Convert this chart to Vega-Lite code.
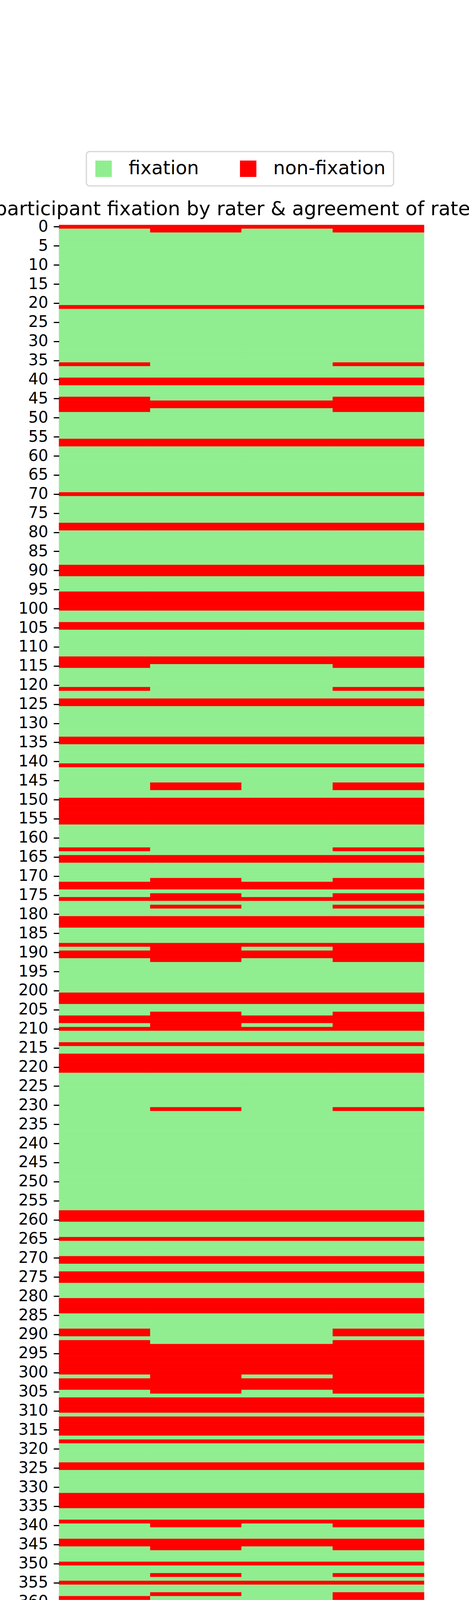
{
  "$schema": "https://vega.github.io/schema/vega-lite/v6.json",
  "description": "participant fixation by rater, 378 participants x 4 columns (1 = fixation, 0 = non-fixation)",
  "autosize": {"type": "none"},
  "padding": {"left": 151, "top": 576, "right": 115, "bottom": 528},
  "width": 934,
  "height": 3696,
  "background": "white",
  "title": {
    "text": "participant fixation by rater & agreement of raters",
    "font": "DejaVu Sans",
    "fontSize": 50,
    "fontWeight": "normal",
    "color": "black",
    "anchor": "middle",
    "baseline": "alphabetic",
    "offset": 0,
    "dy": 214
  },
  "data": {
    "values": [
{"id":0,"col":"A","fix":0},{"id":0,"col":"B","fix":0},{"id":0,"col":"L","fix":0},{"id":0,"col":"C","fix":0},
{"id":1,"col":"A","fix":1},{"id":1,"col":"B","fix":0},{"id":1,"col":"L","fix":1},{"id":1,"col":"C","fix":0},
{"id":2,"col":"A","fix":1},{"id":2,"col":"B","fix":1},{"id":2,"col":"L","fix":1},{"id":2,"col":"C","fix":1},
{"id":3,"col":"A","fix":1},{"id":3,"col":"B","fix":1},{"id":3,"col":"L","fix":1},{"id":3,"col":"C","fix":1},
{"id":4,"col":"A","fix":1},{"id":4,"col":"B","fix":1},{"id":4,"col":"L","fix":1},{"id":4,"col":"C","fix":1},
{"id":5,"col":"A","fix":1},{"id":5,"col":"B","fix":1},{"id":5,"col":"L","fix":1},{"id":5,"col":"C","fix":1},
{"id":6,"col":"A","fix":1},{"id":6,"col":"B","fix":1},{"id":6,"col":"L","fix":1},{"id":6,"col":"C","fix":1},
{"id":7,"col":"A","fix":1},{"id":7,"col":"B","fix":1},{"id":7,"col":"L","fix":1},{"id":7,"col":"C","fix":1},
{"id":8,"col":"A","fix":1},{"id":8,"col":"B","fix":1},{"id":8,"col":"L","fix":1},{"id":8,"col":"C","fix":1},
{"id":9,"col":"A","fix":1},{"id":9,"col":"B","fix":1},{"id":9,"col":"L","fix":1},{"id":9,"col":"C","fix":1},
{"id":10,"col":"A","fix":1},{"id":10,"col":"B","fix":1},{"id":10,"col":"L","fix":1},{"id":10,"col":"C","fix":1},
{"id":11,"col":"A","fix":1},{"id":11,"col":"B","fix":1},{"id":11,"col":"L","fix":1},{"id":11,"col":"C","fix":1},
{"id":12,"col":"A","fix":1},{"id":12,"col":"B","fix":1},{"id":12,"col":"L","fix":1},{"id":12,"col":"C","fix":1},
{"id":13,"col":"A","fix":1},{"id":13,"col":"B","fix":1},{"id":13,"col":"L","fix":1},{"id":13,"col":"C","fix":1},
{"id":14,"col":"A","fix":1},{"id":14,"col":"B","fix":1},{"id":14,"col":"L","fix":1},{"id":14,"col":"C","fix":1},
{"id":15,"col":"A","fix":1},{"id":15,"col":"B","fix":1},{"id":15,"col":"L","fix":1},{"id":15,"col":"C","fix":1},
{"id":16,"col":"A","fix":1},{"id":16,"col":"B","fix":1},{"id":16,"col":"L","fix":1},{"id":16,"col":"C","fix":1},
{"id":17,"col":"A","fix":1},{"id":17,"col":"B","fix":1},{"id":17,"col":"L","fix":1},{"id":17,"col":"C","fix":1},
{"id":18,"col":"A","fix":1},{"id":18,"col":"B","fix":1},{"id":18,"col":"L","fix":1},{"id":18,"col":"C","fix":1},
{"id":19,"col":"A","fix":1},{"id":19,"col":"B","fix":1},{"id":19,"col":"L","fix":1},{"id":19,"col":"C","fix":1},
{"id":20,"col":"A","fix":1},{"id":20,"col":"B","fix":1},{"id":20,"col":"L","fix":1},{"id":20,"col":"C","fix":1},
{"id":21,"col":"A","fix":0},{"id":21,"col":"B","fix":0},{"id":21,"col":"L","fix":0},{"id":21,"col":"C","fix":0},
{"id":22,"col":"A","fix":1},{"id":22,"col":"B","fix":1},{"id":22,"col":"L","fix":1},{"id":22,"col":"C","fix":1},
{"id":23,"col":"A","fix":1},{"id":23,"col":"B","fix":1},{"id":23,"col":"L","fix":1},{"id":23,"col":"C","fix":1},
{"id":24,"col":"A","fix":1},{"id":24,"col":"B","fix":1},{"id":24,"col":"L","fix":1},{"id":24,"col":"C","fix":1},
{"id":25,"col":"A","fix":1},{"id":25,"col":"B","fix":1},{"id":25,"col":"L","fix":1},{"id":25,"col":"C","fix":1},
{"id":26,"col":"A","fix":1},{"id":26,"col":"B","fix":1},{"id":26,"col":"L","fix":1},{"id":26,"col":"C","fix":1},
{"id":27,"col":"A","fix":1},{"id":27,"col":"B","fix":1},{"id":27,"col":"L","fix":1},{"id":27,"col":"C","fix":1},
{"id":28,"col":"A","fix":1},{"id":28,"col":"B","fix":1},{"id":28,"col":"L","fix":1},{"id":28,"col":"C","fix":1},
{"id":29,"col":"A","fix":1},{"id":29,"col":"B","fix":1},{"id":29,"col":"L","fix":1},{"id":29,"col":"C","fix":1},
{"id":30,"col":"A","fix":1},{"id":30,"col":"B","fix":1},{"id":30,"col":"L","fix":1},{"id":30,"col":"C","fix":1},
{"id":31,"col":"A","fix":1},{"id":31,"col":"B","fix":1},{"id":31,"col":"L","fix":1},{"id":31,"col":"C","fix":1},
{"id":32,"col":"A","fix":1},{"id":32,"col":"B","fix":1},{"id":32,"col":"L","fix":1},{"id":32,"col":"C","fix":1},
{"id":33,"col":"A","fix":1},{"id":33,"col":"B","fix":1},{"id":33,"col":"L","fix":1},{"id":33,"col":"C","fix":1},
{"id":34,"col":"A","fix":1},{"id":34,"col":"B","fix":1},{"id":34,"col":"L","fix":1},{"id":34,"col":"C","fix":1},
{"id":35,"col":"A","fix":1},{"id":35,"col":"B","fix":1},{"id":35,"col":"L","fix":1},{"id":35,"col":"C","fix":1},
{"id":36,"col":"A","fix":0},{"id":36,"col":"B","fix":1},{"id":36,"col":"L","fix":1},{"id":36,"col":"C","fix":0},
{"id":37,"col":"A","fix":1},{"id":37,"col":"B","fix":1},{"id":37,"col":"L","fix":1},{"id":37,"col":"C","fix":1},
{"id":38,"col":"A","fix":1},{"id":38,"col":"B","fix":1},{"id":38,"col":"L","fix":1},{"id":38,"col":"C","fix":1},
{"id":39,"col":"A","fix":1},{"id":39,"col":"B","fix":1},{"id":39,"col":"L","fix":1},{"id":39,"col":"C","fix":1},
{"id":40,"col":"A","fix":0},{"id":40,"col":"B","fix":0},{"id":40,"col":"L","fix":0},{"id":40,"col":"C","fix":0},
{"id":41,"col":"A","fix":0},{"id":41,"col":"B","fix":0},{"id":41,"col":"L","fix":0},{"id":41,"col":"C","fix":0},
{"id":42,"col":"A","fix":1},{"id":42,"col":"B","fix":1},{"id":42,"col":"L","fix":1},{"id":42,"col":"C","fix":1},
{"id":43,"col":"A","fix":1},{"id":43,"col":"B","fix":1},{"id":43,"col":"L","fix":1},{"id":43,"col":"C","fix":1},
{"id":44,"col":"A","fix":1},{"id":44,"col":"B","fix":1},{"id":44,"col":"L","fix":1},{"id":44,"col":"C","fix":1},
{"id":45,"col":"A","fix":0},{"id":45,"col":"B","fix":1},{"id":45,"col":"L","fix":1},{"id":45,"col":"C","fix":0},
{"id":46,"col":"A","fix":0},{"id":46,"col":"B","fix":0},{"id":46,"col":"L","fix":0},{"id":46,"col":"C","fix":0},
{"id":47,"col":"A","fix":0},{"id":47,"col":"B","fix":0},{"id":47,"col":"L","fix":0},{"id":47,"col":"C","fix":0},
{"id":48,"col":"A","fix":0},{"id":48,"col":"B","fix":1},{"id":48,"col":"L","fix":1},{"id":48,"col":"C","fix":0},
{"id":49,"col":"A","fix":1},{"id":49,"col":"B","fix":1},{"id":49,"col":"L","fix":1},{"id":49,"col":"C","fix":1},
{"id":50,"col":"A","fix":1},{"id":50,"col":"B","fix":1},{"id":50,"col":"L","fix":1},{"id":50,"col":"C","fix":1},
{"id":51,"col":"A","fix":1},{"id":51,"col":"B","fix":1},{"id":51,"col":"L","fix":1},{"id":51,"col":"C","fix":1},
{"id":52,"col":"A","fix":1},{"id":52,"col":"B","fix":1},{"id":52,"col":"L","fix":1},{"id":52,"col":"C","fix":1},
{"id":53,"col":"A","fix":1},{"id":53,"col":"B","fix":1},{"id":53,"col":"L","fix":1},{"id":53,"col":"C","fix":1},
{"id":54,"col":"A","fix":1},{"id":54,"col":"B","fix":1},{"id":54,"col":"L","fix":1},{"id":54,"col":"C","fix":1},
{"id":55,"col":"A","fix":1},{"id":55,"col":"B","fix":1},{"id":55,"col":"L","fix":1},{"id":55,"col":"C","fix":1},
{"id":56,"col":"A","fix":0},{"id":56,"col":"B","fix":0},{"id":56,"col":"L","fix":0},{"id":56,"col":"C","fix":0},
{"id":57,"col":"A","fix":0},{"id":57,"col":"B","fix":0},{"id":57,"col":"L","fix":0},{"id":57,"col":"C","fix":0},
{"id":58,"col":"A","fix":1},{"id":58,"col":"B","fix":1},{"id":58,"col":"L","fix":1},{"id":58,"col":"C","fix":1},
{"id":59,"col":"A","fix":1},{"id":59,"col":"B","fix":1},{"id":59,"col":"L","fix":1},{"id":59,"col":"C","fix":1},
{"id":60,"col":"A","fix":1},{"id":60,"col":"B","fix":1},{"id":60,"col":"L","fix":1},{"id":60,"col":"C","fix":1},
{"id":61,"col":"A","fix":1},{"id":61,"col":"B","fix":1},{"id":61,"col":"L","fix":1},{"id":61,"col":"C","fix":1},
{"id":62,"col":"A","fix":1},{"id":62,"col":"B","fix":1},{"id":62,"col":"L","fix":1},{"id":62,"col":"C","fix":1},
{"id":63,"col":"A","fix":1},{"id":63,"col":"B","fix":1},{"id":63,"col":"L","fix":1},{"id":63,"col":"C","fix":1},
{"id":64,"col":"A","fix":1},{"id":64,"col":"B","fix":1},{"id":64,"col":"L","fix":1},{"id":64,"col":"C","fix":1},
{"id":65,"col":"A","fix":1},{"id":65,"col":"B","fix":1},{"id":65,"col":"L","fix":1},{"id":65,"col":"C","fix":1},
{"id":66,"col":"A","fix":1},{"id":66,"col":"B","fix":1},{"id":66,"col":"L","fix":1},{"id":66,"col":"C","fix":1},
{"id":67,"col":"A","fix":1},{"id":67,"col":"B","fix":1},{"id":67,"col":"L","fix":1},{"id":67,"col":"C","fix":1},
{"id":68,"col":"A","fix":1},{"id":68,"col":"B","fix":1},{"id":68,"col":"L","fix":1},{"id":68,"col":"C","fix":1},
{"id":69,"col":"A","fix":1},{"id":69,"col":"B","fix":1},{"id":69,"col":"L","fix":1},{"id":69,"col":"C","fix":1},
{"id":70,"col":"A","fix":0},{"id":70,"col":"B","fix":0},{"id":70,"col":"L","fix":0},{"id":70,"col":"C","fix":0},
{"id":71,"col":"A","fix":1},{"id":71,"col":"B","fix":1},{"id":71,"col":"L","fix":1},{"id":71,"col":"C","fix":1},
{"id":72,"col":"A","fix":1},{"id":72,"col":"B","fix":1},{"id":72,"col":"L","fix":1},{"id":72,"col":"C","fix":1},
{"id":73,"col":"A","fix":1},{"id":73,"col":"B","fix":1},{"id":73,"col":"L","fix":1},{"id":73,"col":"C","fix":1},
{"id":74,"col":"A","fix":1},{"id":74,"col":"B","fix":1},{"id":74,"col":"L","fix":1},{"id":74,"col":"C","fix":1},
{"id":75,"col":"A","fix":1},{"id":75,"col":"B","fix":1},{"id":75,"col":"L","fix":1},{"id":75,"col":"C","fix":1},
{"id":76,"col":"A","fix":1},{"id":76,"col":"B","fix":1},{"id":76,"col":"L","fix":1},{"id":76,"col":"C","fix":1},
{"id":77,"col":"A","fix":1},{"id":77,"col":"B","fix":1},{"id":77,"col":"L","fix":1},{"id":77,"col":"C","fix":1},
{"id":78,"col":"A","fix":0},{"id":78,"col":"B","fix":0},{"id":78,"col":"L","fix":0},{"id":78,"col":"C","fix":0},
{"id":79,"col":"A","fix":0},{"id":79,"col":"B","fix":0},{"id":79,"col":"L","fix":0},{"id":79,"col":"C","fix":0},
{"id":80,"col":"A","fix":1},{"id":80,"col":"B","fix":1},{"id":80,"col":"L","fix":1},{"id":80,"col":"C","fix":1},
{"id":81,"col":"A","fix":1},{"id":81,"col":"B","fix":1},{"id":81,"col":"L","fix":1},{"id":81,"col":"C","fix":1},
{"id":82,"col":"A","fix":1},{"id":82,"col":"B","fix":1},{"id":82,"col":"L","fix":1},{"id":82,"col":"C","fix":1},
{"id":83,"col":"A","fix":1},{"id":83,"col":"B","fix":1},{"id":83,"col":"L","fix":1},{"id":83,"col":"C","fix":1},
{"id":84,"col":"A","fix":1},{"id":84,"col":"B","fix":1},{"id":84,"col":"L","fix":1},{"id":84,"col":"C","fix":1},
{"id":85,"col":"A","fix":1},{"id":85,"col":"B","fix":1},{"id":85,"col":"L","fix":1},{"id":85,"col":"C","fix":1},
{"id":86,"col":"A","fix":1},{"id":86,"col":"B","fix":1},{"id":86,"col":"L","fix":1},{"id":86,"col":"C","fix":1},
{"id":87,"col":"A","fix":1},{"id":87,"col":"B","fix":1},{"id":87,"col":"L","fix":1},{"id":87,"col":"C","fix":1},
{"id":88,"col":"A","fix":1},{"id":88,"col":"B","fix":1},{"id":88,"col":"L","fix":1},{"id":88,"col":"C","fix":1},
{"id":89,"col":"A","fix":0},{"id":89,"col":"B","fix":0},{"id":89,"col":"L","fix":0},{"id":89,"col":"C","fix":0},
{"id":90,"col":"A","fix":0},{"id":90,"col":"B","fix":0},{"id":90,"col":"L","fix":0},{"id":90,"col":"C","fix":0},
{"id":91,"col":"A","fix":0},{"id":91,"col":"B","fix":0},{"id":91,"col":"L","fix":0},{"id":91,"col":"C","fix":0},
{"id":92,"col":"A","fix":1},{"id":92,"col":"B","fix":1},{"id":92,"col":"L","fix":1},{"id":92,"col":"C","fix":1},
{"id":93,"col":"A","fix":1},{"id":93,"col":"B","fix":1},{"id":93,"col":"L","fix":1},{"id":93,"col":"C","fix":1},
{"id":94,"col":"A","fix":1},{"id":94,"col":"B","fix":1},{"id":94,"col":"L","fix":1},{"id":94,"col":"C","fix":1},
{"id":95,"col":"A","fix":1},{"id":95,"col":"B","fix":1},{"id":95,"col":"L","fix":1},{"id":95,"col":"C","fix":1},
{"id":96,"col":"A","fix":0},{"id":96,"col":"B","fix":0},{"id":96,"col":"L","fix":0},{"id":96,"col":"C","fix":0},
{"id":97,"col":"A","fix":0},{"id":97,"col":"B","fix":0},{"id":97,"col":"L","fix":0},{"id":97,"col":"C","fix":0},
{"id":98,"col":"A","fix":0},{"id":98,"col":"B","fix":0},{"id":98,"col":"L","fix":0},{"id":98,"col":"C","fix":0},
{"id":99,"col":"A","fix":0},{"id":99,"col":"B","fix":0},{"id":99,"col":"L","fix":0},{"id":99,"col":"C","fix":0},
{"id":100,"col":"A","fix":0},{"id":100,"col":"B","fix":0},{"id":100,"col":"L","fix":0},{"id":100,"col":"C","fix":0},
{"id":101,"col":"A","fix":1},{"id":101,"col":"B","fix":1},{"id":101,"col":"L","fix":1},{"id":101,"col":"C","fix":1},
{"id":102,"col":"A","fix":1},{"id":102,"col":"B","fix":1},{"id":102,"col":"L","fix":1},{"id":102,"col":"C","fix":1},
{"id":103,"col":"A","fix":1},{"id":103,"col":"B","fix":1},{"id":103,"col":"L","fix":1},{"id":103,"col":"C","fix":1},
{"id":104,"col":"A","fix":0},{"id":104,"col":"B","fix":0},{"id":104,"col":"L","fix":0},{"id":104,"col":"C","fix":0},
{"id":105,"col":"A","fix":0},{"id":105,"col":"B","fix":0},{"id":105,"col":"L","fix":0},{"id":105,"col":"C","fix":0},
{"id":106,"col":"A","fix":1},{"id":106,"col":"B","fix":1},{"id":106,"col":"L","fix":1},{"id":106,"col":"C","fix":1},
{"id":107,"col":"A","fix":1},{"id":107,"col":"B","fix":1},{"id":107,"col":"L","fix":1},{"id":107,"col":"C","fix":1},
{"id":108,"col":"A","fix":1},{"id":108,"col":"B","fix":1},{"id":108,"col":"L","fix":1},{"id":108,"col":"C","fix":1},
{"id":109,"col":"A","fix":1},{"id":109,"col":"B","fix":1},{"id":109,"col":"L","fix":1},{"id":109,"col":"C","fix":1},
{"id":110,"col":"A","fix":1},{"id":110,"col":"B","fix":1},{"id":110,"col":"L","fix":1},{"id":110,"col":"C","fix":1},
{"id":111,"col":"A","fix":1},{"id":111,"col":"B","fix":1},{"id":111,"col":"L","fix":1},{"id":111,"col":"C","fix":1},
{"id":112,"col":"A","fix":1},{"id":112,"col":"B","fix":1},{"id":112,"col":"L","fix":1},{"id":112,"col":"C","fix":1},
{"id":113,"col":"A","fix":0},{"id":113,"col":"B","fix":0},{"id":113,"col":"L","fix":0},{"id":113,"col":"C","fix":0},
{"id":114,"col":"A","fix":0},{"id":114,"col":"B","fix":0},{"id":114,"col":"L","fix":0},{"id":114,"col":"C","fix":0},
{"id":115,"col":"A","fix":0},{"id":115,"col":"B","fix":1},{"id":115,"col":"L","fix":1},{"id":115,"col":"C","fix":0},
{"id":116,"col":"A","fix":1},{"id":116,"col":"B","fix":1},{"id":116,"col":"L","fix":1},{"id":116,"col":"C","fix":1},
{"id":117,"col":"A","fix":1},{"id":117,"col":"B","fix":1},{"id":117,"col":"L","fix":1},{"id":117,"col":"C","fix":1},
{"id":118,"col":"A","fix":1},{"id":118,"col":"B","fix":1},{"id":118,"col":"L","fix":1},{"id":118,"col":"C","fix":1},
{"id":119,"col":"A","fix":1},{"id":119,"col":"B","fix":1},{"id":119,"col":"L","fix":1},{"id":119,"col":"C","fix":1},
{"id":120,"col":"A","fix":1},{"id":120,"col":"B","fix":1},{"id":120,"col":"L","fix":1},{"id":120,"col":"C","fix":1},
{"id":121,"col":"A","fix":0},{"id":121,"col":"B","fix":1},{"id":121,"col":"L","fix":1},{"id":121,"col":"C","fix":0},
{"id":122,"col":"A","fix":1},{"id":122,"col":"B","fix":1},{"id":122,"col":"L","fix":1},{"id":122,"col":"C","fix":1},
{"id":123,"col":"A","fix":1},{"id":123,"col":"B","fix":1},{"id":123,"col":"L","fix":1},{"id":123,"col":"C","fix":1},
{"id":124,"col":"A","fix":0},{"id":124,"col":"B","fix":0},{"id":124,"col":"L","fix":0},{"id":124,"col":"C","fix":0},
{"id":125,"col":"A","fix":0},{"id":125,"col":"B","fix":0},{"id":125,"col":"L","fix":0},{"id":125,"col":"C","fix":0},
{"id":126,"col":"A","fix":1},{"id":126,"col":"B","fix":1},{"id":126,"col":"L","fix":1},{"id":126,"col":"C","fix":1},
{"id":127,"col":"A","fix":1},{"id":127,"col":"B","fix":1},{"id":127,"col":"L","fix":1},{"id":127,"col":"C","fix":1},
{"id":128,"col":"A","fix":1},{"id":128,"col":"B","fix":1},{"id":128,"col":"L","fix":1},{"id":128,"col":"C","fix":1},
{"id":129,"col":"A","fix":1},{"id":129,"col":"B","fix":1},{"id":129,"col":"L","fix":1},{"id":129,"col":"C","fix":1},
{"id":130,"col":"A","fix":1},{"id":130,"col":"B","fix":1},{"id":130,"col":"L","fix":1},{"id":130,"col":"C","fix":1},
{"id":131,"col":"A","fix":1},{"id":131,"col":"B","fix":1},{"id":131,"col":"L","fix":1},{"id":131,"col":"C","fix":1},
{"id":132,"col":"A","fix":1},{"id":132,"col":"B","fix":1},{"id":132,"col":"L","fix":1},{"id":132,"col":"C","fix":1},
{"id":133,"col":"A","fix":1},{"id":133,"col":"B","fix":1},{"id":133,"col":"L","fix":1},{"id":133,"col":"C","fix":1},
{"id":134,"col":"A","fix":0},{"id":134,"col":"B","fix":0},{"id":134,"col":"L","fix":0},{"id":134,"col":"C","fix":0},
{"id":135,"col":"A","fix":0},{"id":135,"col":"B","fix":0},{"id":135,"col":"L","fix":0},{"id":135,"col":"C","fix":0},
{"id":136,"col":"A","fix":1},{"id":136,"col":"B","fix":1},{"id":136,"col":"L","fix":1},{"id":136,"col":"C","fix":1},
{"id":137,"col":"A","fix":1},{"id":137,"col":"B","fix":1},{"id":137,"col":"L","fix":1},{"id":137,"col":"C","fix":1},
{"id":138,"col":"A","fix":1},{"id":138,"col":"B","fix":1},{"id":138,"col":"L","fix":1},{"id":138,"col":"C","fix":1},
{"id":139,"col":"A","fix":1},{"id":139,"col":"B","fix":1},{"id":139,"col":"L","fix":1},{"id":139,"col":"C","fix":1},
{"id":140,"col":"A","fix":1},{"id":140,"col":"B","fix":1},{"id":140,"col":"L","fix":1},{"id":140,"col":"C","fix":1},
{"id":141,"col":"A","fix":0},{"id":141,"col":"B","fix":0},{"id":141,"col":"L","fix":0},{"id":141,"col":"C","fix":0},
{"id":142,"col":"A","fix":1},{"id":142,"col":"B","fix":1},{"id":142,"col":"L","fix":1},{"id":142,"col":"C","fix":1},
{"id":143,"col":"A","fix":1},{"id":143,"col":"B","fix":1},{"id":143,"col":"L","fix":1},{"id":143,"col":"C","fix":1},
{"id":144,"col":"A","fix":1},{"id":144,"col":"B","fix":1},{"id":144,"col":"L","fix":1},{"id":144,"col":"C","fix":1},
{"id":145,"col":"A","fix":1},{"id":145,"col":"B","fix":1},{"id":145,"col":"L","fix":1},{"id":145,"col":"C","fix":1},
{"id":146,"col":"A","fix":1},{"id":146,"col":"B","fix":0},{"id":146,"col":"L","fix":1},{"id":146,"col":"C","fix":0},
{"id":147,"col":"A","fix":1},{"id":147,"col":"B","fix":0},{"id":147,"col":"L","fix":1},{"id":147,"col":"C","fix":0},
{"id":148,"col":"A","fix":1},{"id":148,"col":"B","fix":1},{"id":148,"col":"L","fix":1},{"id":148,"col":"C","fix":1},
{"id":149,"col":"A","fix":1},{"id":149,"col":"B","fix":1},{"id":149,"col":"L","fix":1},{"id":149,"col":"C","fix":1},
{"id":150,"col":"A","fix":0},{"id":150,"col":"B","fix":0},{"id":150,"col":"L","fix":0},{"id":150,"col":"C","fix":0},
{"id":151,"col":"A","fix":0},{"id":151,"col":"B","fix":0},{"id":151,"col":"L","fix":0},{"id":151,"col":"C","fix":0},
{"id":152,"col":"A","fix":0},{"id":152,"col":"B","fix":0},{"id":152,"col":"L","fix":0},{"id":152,"col":"C","fix":0},
{"id":153,"col":"A","fix":0},{"id":153,"col":"B","fix":0},{"id":153,"col":"L","fix":0},{"id":153,"col":"C","fix":0},
{"id":154,"col":"A","fix":0},{"id":154,"col":"B","fix":0},{"id":154,"col":"L","fix":0},{"id":154,"col":"C","fix":0},
{"id":155,"col":"A","fix":0},{"id":155,"col":"B","fix":0},{"id":155,"col":"L","fix":0},{"id":155,"col":"C","fix":0},
{"id":156,"col":"A","fix":0},{"id":156,"col":"B","fix":0},{"id":156,"col":"L","fix":0},{"id":156,"col":"C","fix":0},
{"id":157,"col":"A","fix":1},{"id":157,"col":"B","fix":1},{"id":157,"col":"L","fix":1},{"id":157,"col":"C","fix":1},
{"id":158,"col":"A","fix":1},{"id":158,"col":"B","fix":1},{"id":158,"col":"L","fix":1},{"id":158,"col":"C","fix":1},
{"id":159,"col":"A","fix":1},{"id":159,"col":"B","fix":1},{"id":159,"col":"L","fix":1},{"id":159,"col":"C","fix":1},
{"id":160,"col":"A","fix":1},{"id":160,"col":"B","fix":1},{"id":160,"col":"L","fix":1},{"id":160,"col":"C","fix":1},
{"id":161,"col":"A","fix":1},{"id":161,"col":"B","fix":1},{"id":161,"col":"L","fix":1},{"id":161,"col":"C","fix":1},
{"id":162,"col":"A","fix":1},{"id":162,"col":"B","fix":1},{"id":162,"col":"L","fix":1},{"id":162,"col":"C","fix":1},
{"id":163,"col":"A","fix":0},{"id":163,"col":"B","fix":1},{"id":163,"col":"L","fix":1},{"id":163,"col":"C","fix":0},
{"id":164,"col":"A","fix":1},{"id":164,"col":"B","fix":1},{"id":164,"col":"L","fix":1},{"id":164,"col":"C","fix":1},
{"id":165,"col":"A","fix":0},{"id":165,"col":"B","fix":0},{"id":165,"col":"L","fix":0},{"id":165,"col":"C","fix":0},
{"id":166,"col":"A","fix":0},{"id":166,"col":"B","fix":0},{"id":166,"col":"L","fix":0},{"id":166,"col":"C","fix":0},
{"id":167,"col":"A","fix":1},{"id":167,"col":"B","fix":1},{"id":167,"col":"L","fix":1},{"id":167,"col":"C","fix":1},
{"id":168,"col":"A","fix":1},{"id":168,"col":"B","fix":1},{"id":168,"col":"L","fix":1},{"id":168,"col":"C","fix":1},
{"id":169,"col":"A","fix":1},{"id":169,"col":"B","fix":1},{"id":169,"col":"L","fix":1},{"id":169,"col":"C","fix":1},
{"id":170,"col":"A","fix":1},{"id":170,"col":"B","fix":1},{"id":170,"col":"L","fix":1},{"id":170,"col":"C","fix":1},
{"id":171,"col":"A","fix":1},{"id":171,"col":"B","fix":0},{"id":171,"col":"L","fix":1},{"id":171,"col":"C","fix":0},
{"id":172,"col":"A","fix":0},{"id":172,"col":"B","fix":0},{"id":172,"col":"L","fix":0},{"id":172,"col":"C","fix":0},
{"id":173,"col":"A","fix":0},{"id":173,"col":"B","fix":0},{"id":173,"col":"L","fix":0},{"id":173,"col":"C","fix":0},
{"id":174,"col":"A","fix":1},{"id":174,"col":"B","fix":1},{"id":174,"col":"L","fix":1},{"id":174,"col":"C","fix":1},
{"id":175,"col":"A","fix":1},{"id":175,"col":"B","fix":0},{"id":175,"col":"L","fix":1},{"id":175,"col":"C","fix":0},
{"id":176,"col":"A","fix":0},{"id":176,"col":"B","fix":0},{"id":176,"col":"L","fix":0},{"id":176,"col":"C","fix":0},
{"id":177,"col":"A","fix":1},{"id":177,"col":"B","fix":1},{"id":177,"col":"L","fix":1},{"id":177,"col":"C","fix":1},
{"id":178,"col":"A","fix":1},{"id":178,"col":"B","fix":0},{"id":178,"col":"L","fix":1},{"id":178,"col":"C","fix":0},
{"id":179,"col":"A","fix":1},{"id":179,"col":"B","fix":1},{"id":179,"col":"L","fix":1},{"id":179,"col":"C","fix":1},
{"id":180,"col":"A","fix":1},{"id":180,"col":"B","fix":1},{"id":180,"col":"L","fix":1},{"id":180,"col":"C","fix":1},
{"id":181,"col":"A","fix":0},{"id":181,"col":"B","fix":0},{"id":181,"col":"L","fix":0},{"id":181,"col":"C","fix":0},
{"id":182,"col":"A","fix":0},{"id":182,"col":"B","fix":0},{"id":182,"col":"L","fix":0},{"id":182,"col":"C","fix":0},
{"id":183,"col":"A","fix":0},{"id":183,"col":"B","fix":0},{"id":183,"col":"L","fix":0},{"id":183,"col":"C","fix":0},
{"id":184,"col":"A","fix":1},{"id":184,"col":"B","fix":1},{"id":184,"col":"L","fix":1},{"id":184,"col":"C","fix":1},
{"id":185,"col":"A","fix":1},{"id":185,"col":"B","fix":1},{"id":185,"col":"L","fix":1},{"id":185,"col":"C","fix":1},
{"id":186,"col":"A","fix":1},{"id":186,"col":"B","fix":1},{"id":186,"col":"L","fix":1},{"id":186,"col":"C","fix":1},
{"id":187,"col":"A","fix":1},{"id":187,"col":"B","fix":1},{"id":187,"col":"L","fix":1},{"id":187,"col":"C","fix":1},
{"id":188,"col":"A","fix":0},{"id":188,"col":"B","fix":0},{"id":188,"col":"L","fix":0},{"id":188,"col":"C","fix":0},
{"id":189,"col":"A","fix":1},{"id":189,"col":"B","fix":0},{"id":189,"col":"L","fix":1},{"id":189,"col":"C","fix":0},
{"id":190,"col":"A","fix":0},{"id":190,"col":"B","fix":0},{"id":190,"col":"L","fix":0},{"id":190,"col":"C","fix":0},
{"id":191,"col":"A","fix":0},{"id":191,"col":"B","fix":0},{"id":191,"col":"L","fix":0},{"id":191,"col":"C","fix":0},
{"id":192,"col":"A","fix":1},{"id":192,"col":"B","fix":0},{"id":192,"col":"L","fix":1},{"id":192,"col":"C","fix":0},
{"id":193,"col":"A","fix":1},{"id":193,"col":"B","fix":1},{"id":193,"col":"L","fix":1},{"id":193,"col":"C","fix":1},
{"id":194,"col":"A","fix":1},{"id":194,"col":"B","fix":1},{"id":194,"col":"L","fix":1},{"id":194,"col":"C","fix":1},
{"id":195,"col":"A","fix":1},{"id":195,"col":"B","fix":1},{"id":195,"col":"L","fix":1},{"id":195,"col":"C","fix":1},
{"id":196,"col":"A","fix":1},{"id":196,"col":"B","fix":1},{"id":196,"col":"L","fix":1},{"id":196,"col":"C","fix":1},
{"id":197,"col":"A","fix":1},{"id":197,"col":"B","fix":1},{"id":197,"col":"L","fix":1},{"id":197,"col":"C","fix":1},
{"id":198,"col":"A","fix":1},{"id":198,"col":"B","fix":1},{"id":198,"col":"L","fix":1},{"id":198,"col":"C","fix":1},
{"id":199,"col":"A","fix":1},{"id":199,"col":"B","fix":1},{"id":199,"col":"L","fix":1},{"id":199,"col":"C","fix":1},
{"id":200,"col":"A","fix":1},{"id":200,"col":"B","fix":1},{"id":200,"col":"L","fix":1},{"id":200,"col":"C","fix":1},
{"id":201,"col":"A","fix":0},{"id":201,"col":"B","fix":0},{"id":201,"col":"L","fix":0},{"id":201,"col":"C","fix":0},
{"id":202,"col":"A","fix":0},{"id":202,"col":"B","fix":0},{"id":202,"col":"L","fix":0},{"id":202,"col":"C","fix":0},
{"id":203,"col":"A","fix":0},{"id":203,"col":"B","fix":0},{"id":203,"col":"L","fix":0},{"id":203,"col":"C","fix":0},
{"id":204,"col":"A","fix":1},{"id":204,"col":"B","fix":1},{"id":204,"col":"L","fix":1},{"id":204,"col":"C","fix":1},
{"id":205,"col":"A","fix":1},{"id":205,"col":"B","fix":1},{"id":205,"col":"L","fix":1},{"id":205,"col":"C","fix":1},
{"id":206,"col":"A","fix":1},{"id":206,"col":"B","fix":0},{"id":206,"col":"L","fix":1},{"id":206,"col":"C","fix":0},
{"id":207,"col":"A","fix":0},{"id":207,"col":"B","fix":0},{"id":207,"col":"L","fix":0},{"id":207,"col":"C","fix":0},
{"id":208,"col":"A","fix":0},{"id":208,"col":"B","fix":0},{"id":208,"col":"L","fix":0},{"id":208,"col":"C","fix":0},
{"id":209,"col":"A","fix":1},{"id":209,"col":"B","fix":0},{"id":209,"col":"L","fix":1},{"id":209,"col":"C","fix":0},
{"id":210,"col":"A","fix":0},{"id":210,"col":"B","fix":0},{"id":210,"col":"L","fix":0},{"id":210,"col":"C","fix":0},
{"id":211,"col":"A","fix":1},{"id":211,"col":"B","fix":1},{"id":211,"col":"L","fix":1},{"id":211,"col":"C","fix":1},
{"id":212,"col":"A","fix":1},{"id":212,"col":"B","fix":1},{"id":212,"col":"L","fix":1},{"id":212,"col":"C","fix":1},
{"id":213,"col":"A","fix":1},{"id":213,"col":"B","fix":1},{"id":213,"col":"L","fix":1},{"id":213,"col":"C","fix":1},
{"id":214,"col":"A","fix":0},{"id":214,"col":"B","fix":0},{"id":214,"col":"L","fix":0},{"id":214,"col":"C","fix":0},
{"id":215,"col":"A","fix":1},{"id":215,"col":"B","fix":1},{"id":215,"col":"L","fix":1},{"id":215,"col":"C","fix":1},
{"id":216,"col":"A","fix":1},{"id":216,"col":"B","fix":1},{"id":216,"col":"L","fix":1},{"id":216,"col":"C","fix":1},
{"id":217,"col":"A","fix":0},{"id":217,"col":"B","fix":0},{"id":217,"col":"L","fix":0},{"id":217,"col":"C","fix":0},
{"id":218,"col":"A","fix":0},{"id":218,"col":"B","fix":0},{"id":218,"col":"L","fix":0},{"id":218,"col":"C","fix":0},
{"id":219,"col":"A","fix":0},{"id":219,"col":"B","fix":0},{"id":219,"col":"L","fix":0},{"id":219,"col":"C","fix":0},
{"id":220,"col":"A","fix":0},{"id":220,"col":"B","fix":0},{"id":220,"col":"L","fix":0},{"id":220,"col":"C","fix":0},
{"id":221,"col":"A","fix":0},{"id":221,"col":"B","fix":0},{"id":221,"col":"L","fix":0},{"id":221,"col":"C","fix":0},
{"id":222,"col":"A","fix":1},{"id":222,"col":"B","fix":1},{"id":222,"col":"L","fix":1},{"id":222,"col":"C","fix":1},
{"id":223,"col":"A","fix":1},{"id":223,"col":"B","fix":1},{"id":223,"col":"L","fix":1},{"id":223,"col":"C","fix":1},
{"id":224,"col":"A","fix":1},{"id":224,"col":"B","fix":1},{"id":224,"col":"L","fix":1},{"id":224,"col":"C","fix":1},
{"id":225,"col":"A","fix":1},{"id":225,"col":"B","fix":1},{"id":225,"col":"L","fix":1},{"id":225,"col":"C","fix":1},
{"id":226,"col":"A","fix":1},{"id":226,"col":"B","fix":1},{"id":226,"col":"L","fix":1},{"id":226,"col":"C","fix":1},
{"id":227,"col":"A","fix":1},{"id":227,"col":"B","fix":1},{"id":227,"col":"L","fix":1},{"id":227,"col":"C","fix":1},
{"id":228,"col":"A","fix":1},{"id":228,"col":"B","fix":1},{"id":228,"col":"L","fix":1},{"id":228,"col":"C","fix":1},
{"id":229,"col":"A","fix":1},{"id":229,"col":"B","fix":1},{"id":229,"col":"L","fix":1},{"id":229,"col":"C","fix":1},
{"id":230,"col":"A","fix":1},{"id":230,"col":"B","fix":1},{"id":230,"col":"L","fix":1},{"id":230,"col":"C","fix":1},
{"id":231,"col":"A","fix":1},{"id":231,"col":"B","fix":0},{"id":231,"col":"L","fix":1},{"id":231,"col":"C","fix":0},
{"id":232,"col":"A","fix":1},{"id":232,"col":"B","fix":1},{"id":232,"col":"L","fix":1},{"id":232,"col":"C","fix":1},
{"id":233,"col":"A","fix":1},{"id":233,"col":"B","fix":1},{"id":233,"col":"L","fix":1},{"id":233,"col":"C","fix":1},
{"id":234,"col":"A","fix":1},{"id":234,"col":"B","fix":1},{"id":234,"col":"L","fix":1},{"id":234,"col":"C","fix":1},
{"id":235,"col":"A","fix":1},{"id":235,"col":"B","fix":1},{"id":235,"col":"L","fix":1},{"id":235,"col":"C","fix":1},
{"id":236,"col":"A","fix":1},{"id":236,"col":"B","fix":1},{"id":236,"col":"L","fix":1},{"id":236,"col":"C","fix":1},
{"id":237,"col":"A","fix":1},{"id":237,"col":"B","fix":1},{"id":237,"col":"L","fix":1},{"id":237,"col":"C","fix":1},
{"id":238,"col":"A","fix":1},{"id":238,"col":"B","fix":1},{"id":238,"col":"L","fix":1},{"id":238,"col":"C","fix":1},
{"id":239,"col":"A","fix":1},{"id":239,"col":"B","fix":1},{"id":239,"col":"L","fix":1},{"id":239,"col":"C","fix":1},
{"id":240,"col":"A","fix":1},{"id":240,"col":"B","fix":1},{"id":240,"col":"L","fix":1},{"id":240,"col":"C","fix":1},
{"id":241,"col":"A","fix":1},{"id":241,"col":"B","fix":1},{"id":241,"col":"L","fix":1},{"id":241,"col":"C","fix":1},
{"id":242,"col":"A","fix":1},{"id":242,"col":"B","fix":1},{"id":242,"col":"L","fix":1},{"id":242,"col":"C","fix":1},
{"id":243,"col":"A","fix":1},{"id":243,"col":"B","fix":1},{"id":243,"col":"L","fix":1},{"id":243,"col":"C","fix":1},
{"id":244,"col":"A","fix":1},{"id":244,"col":"B","fix":1},{"id":244,"col":"L","fix":1},{"id":244,"col":"C","fix":1},
{"id":245,"col":"A","fix":1},{"id":245,"col":"B","fix":1},{"id":245,"col":"L","fix":1},{"id":245,"col":"C","fix":1},
{"id":246,"col":"A","fix":1},{"id":246,"col":"B","fix":1},{"id":246,"col":"L","fix":1},{"id":246,"col":"C","fix":1},
{"id":247,"col":"A","fix":1},{"id":247,"col":"B","fix":1},{"id":247,"col":"L","fix":1},{"id":247,"col":"C","fix":1},
{"id":248,"col":"A","fix":1},{"id":248,"col":"B","fix":1},{"id":248,"col":"L","fix":1},{"id":248,"col":"C","fix":1},
{"id":249,"col":"A","fix":1},{"id":249,"col":"B","fix":1},{"id":249,"col":"L","fix":1},{"id":249,"col":"C","fix":1},
{"id":250,"col":"A","fix":1},{"id":250,"col":"B","fix":1},{"id":250,"col":"L","fix":1},{"id":250,"col":"C","fix":1},
{"id":251,"col":"A","fix":1},{"id":251,"col":"B","fix":1},{"id":251,"col":"L","fix":1},{"id":251,"col":"C","fix":1},
{"id":252,"col":"A","fix":1},{"id":252,"col":"B","fix":1},{"id":252,"col":"L","fix":1},{"id":252,"col":"C","fix":1},
{"id":253,"col":"A","fix":1},{"id":253,"col":"B","fix":1},{"id":253,"col":"L","fix":1},{"id":253,"col":"C","fix":1},
{"id":254,"col":"A","fix":1},{"id":254,"col":"B","fix":1},{"id":254,"col":"L","fix":1},{"id":254,"col":"C","fix":1},
{"id":255,"col":"A","fix":1},{"id":255,"col":"B","fix":1},{"id":255,"col":"L","fix":1},{"id":255,"col":"C","fix":1},
{"id":256,"col":"A","fix":1},{"id":256,"col":"B","fix":1},{"id":256,"col":"L","fix":1},{"id":256,"col":"C","fix":1},
{"id":257,"col":"A","fix":1},{"id":257,"col":"B","fix":1},{"id":257,"col":"L","fix":1},{"id":257,"col":"C","fix":1},
{"id":258,"col":"A","fix":0},{"id":258,"col":"B","fix":0},{"id":258,"col":"L","fix":0},{"id":258,"col":"C","fix":0},
{"id":259,"col":"A","fix":0},{"id":259,"col":"B","fix":0},{"id":259,"col":"L","fix":0},{"id":259,"col":"C","fix":0},
{"id":260,"col":"A","fix":0},{"id":260,"col":"B","fix":0},{"id":260,"col":"L","fix":0},{"id":260,"col":"C","fix":0},
{"id":261,"col":"A","fix":1},{"id":261,"col":"B","fix":1},{"id":261,"col":"L","fix":1},{"id":261,"col":"C","fix":1},
{"id":262,"col":"A","fix":1},{"id":262,"col":"B","fix":1},{"id":262,"col":"L","fix":1},{"id":262,"col":"C","fix":1},
{"id":263,"col":"A","fix":1},{"id":263,"col":"B","fix":1},{"id":263,"col":"L","fix":1},{"id":263,"col":"C","fix":1},
{"id":264,"col":"A","fix":1},{"id":264,"col":"B","fix":1},{"id":264,"col":"L","fix":1},{"id":264,"col":"C","fix":1},
{"id":265,"col":"A","fix":0},{"id":265,"col":"B","fix":0},{"id":265,"col":"L","fix":0},{"id":265,"col":"C","fix":0},
{"id":266,"col":"A","fix":1},{"id":266,"col":"B","fix":1},{"id":266,"col":"L","fix":1},{"id":266,"col":"C","fix":1},
{"id":267,"col":"A","fix":1},{"id":267,"col":"B","fix":1},{"id":267,"col":"L","fix":1},{"id":267,"col":"C","fix":1},
{"id":268,"col":"A","fix":1},{"id":268,"col":"B","fix":1},{"id":268,"col":"L","fix":1},{"id":268,"col":"C","fix":1},
{"id":269,"col":"A","fix":1},{"id":269,"col":"B","fix":1},{"id":269,"col":"L","fix":1},{"id":269,"col":"C","fix":1},
{"id":270,"col":"A","fix":0},{"id":270,"col":"B","fix":0},{"id":270,"col":"L","fix":0},{"id":270,"col":"C","fix":0},
{"id":271,"col":"A","fix":0},{"id":271,"col":"B","fix":0},{"id":271,"col":"L","fix":0},{"id":271,"col":"C","fix":0},
{"id":272,"col":"A","fix":1},{"id":272,"col":"B","fix":1},{"id":272,"col":"L","fix":1},{"id":272,"col":"C","fix":1},
{"id":273,"col":"A","fix":1},{"id":273,"col":"B","fix":1},{"id":273,"col":"L","fix":1},{"id":273,"col":"C","fix":1},
{"id":274,"col":"A","fix":0},{"id":274,"col":"B","fix":0},{"id":274,"col":"L","fix":0},{"id":274,"col":"C","fix":0},
{"id":275,"col":"A","fix":0},{"id":275,"col":"B","fix":0},{"id":275,"col":"L","fix":0},{"id":275,"col":"C","fix":0},
{"id":276,"col":"A","fix":0},{"id":276,"col":"B","fix":0},{"id":276,"col":"L","fix":0},{"id":276,"col":"C","fix":0},
{"id":277,"col":"A","fix":1},{"id":277,"col":"B","fix":1},{"id":277,"col":"L","fix":1},{"id":277,"col":"C","fix":1},
{"id":278,"col":"A","fix":1},{"id":278,"col":"B","fix":1},{"id":278,"col":"L","fix":1},{"id":278,"col":"C","fix":1},
{"id":279,"col":"A","fix":1},{"id":279,"col":"B","fix":1},{"id":279,"col":"L","fix":1},{"id":279,"col":"C","fix":1},
{"id":280,"col":"A","fix":1},{"id":280,"col":"B","fix":1},{"id":280,"col":"L","fix":1},{"id":280,"col":"C","fix":1},
{"id":281,"col":"A","fix":0},{"id":281,"col":"B","fix":0},{"id":281,"col":"L","fix":0},{"id":281,"col":"C","fix":0},
{"id":282,"col":"A","fix":0},{"id":282,"col":"B","fix":0},{"id":282,"col":"L","fix":0},{"id":282,"col":"C","fix":0},
{"id":283,"col":"A","fix":0},{"id":283,"col":"B","fix":0},{"id":283,"col":"L","fix":0},{"id":283,"col":"C","fix":0},
{"id":284,"col":"A","fix":0},{"id":284,"col":"B","fix":0},{"id":284,"col":"L","fix":0},{"id":284,"col":"C","fix":0},
{"id":285,"col":"A","fix":1},{"id":285,"col":"B","fix":1},{"id":285,"col":"L","fix":1},{"id":285,"col":"C","fix":1},
{"id":286,"col":"A","fix":1},{"id":286,"col":"B","fix":1},{"id":286,"col":"L","fix":1},{"id":286,"col":"C","fix":1},
{"id":287,"col":"A","fix":1},{"id":287,"col":"B","fix":1},{"id":287,"col":"L","fix":1},{"id":287,"col":"C","fix":1},
{"id":288,"col":"A","fix":1},{"id":288,"col":"B","fix":1},{"id":288,"col":"L","fix":1},{"id":288,"col":"C","fix":1},
{"id":289,"col":"A","fix":0},{"id":289,"col":"B","fix":1},{"id":289,"col":"L","fix":1},{"id":289,"col":"C","fix":0},
{"id":290,"col":"A","fix":0},{"id":290,"col":"B","fix":1},{"id":290,"col":"L","fix":1},{"id":290,"col":"C","fix":0},
{"id":291,"col":"A","fix":1},{"id":291,"col":"B","fix":1},{"id":291,"col":"L","fix":1},{"id":291,"col":"C","fix":1},
{"id":292,"col":"A","fix":0},{"id":292,"col":"B","fix":1},{"id":292,"col":"L","fix":1},{"id":292,"col":"C","fix":0},
{"id":293,"col":"A","fix":0},{"id":293,"col":"B","fix":0},{"id":293,"col":"L","fix":0},{"id":293,"col":"C","fix":0},
{"id":294,"col":"A","fix":0},{"id":294,"col":"B","fix":0},{"id":294,"col":"L","fix":0},{"id":294,"col":"C","fix":0},
{"id":295,"col":"A","fix":0},{"id":295,"col":"B","fix":0},{"id":295,"col":"L","fix":0},{"id":295,"col":"C","fix":0},
{"id":296,"col":"A","fix":0},{"id":296,"col":"B","fix":0},{"id":296,"col":"L","fix":0},{"id":296,"col":"C","fix":0},
{"id":297,"col":"A","fix":0},{"id":297,"col":"B","fix":0},{"id":297,"col":"L","fix":0},{"id":297,"col":"C","fix":0},
{"id":298,"col":"A","fix":0},{"id":298,"col":"B","fix":0},{"id":298,"col":"L","fix":0},{"id":298,"col":"C","fix":0},
{"id":299,"col":"A","fix":0},{"id":299,"col":"B","fix":0},{"id":299,"col":"L","fix":0},{"id":299,"col":"C","fix":0},
{"id":300,"col":"A","fix":0},{"id":300,"col":"B","fix":0},{"id":300,"col":"L","fix":0},{"id":300,"col":"C","fix":0},
{"id":301,"col":"A","fix":1},{"id":301,"col":"B","fix":0},{"id":301,"col":"L","fix":1},{"id":301,"col":"C","fix":0},
{"id":302,"col":"A","fix":0},{"id":302,"col":"B","fix":0},{"id":302,"col":"L","fix":0},{"id":302,"col":"C","fix":0},
{"id":303,"col":"A","fix":0},{"id":303,"col":"B","fix":0},{"id":303,"col":"L","fix":0},{"id":303,"col":"C","fix":0},
{"id":304,"col":"A","fix":0},{"id":304,"col":"B","fix":0},{"id":304,"col":"L","fix":0},{"id":304,"col":"C","fix":0},
{"id":305,"col":"A","fix":1},{"id":305,"col":"B","fix":0},{"id":305,"col":"L","fix":1},{"id":305,"col":"C","fix":0},
{"id":306,"col":"A","fix":1},{"id":306,"col":"B","fix":1},{"id":306,"col":"L","fix":1},{"id":306,"col":"C","fix":1},
{"id":307,"col":"A","fix":0},{"id":307,"col":"B","fix":0},{"id":307,"col":"L","fix":0},{"id":307,"col":"C","fix":0},
{"id":308,"col":"A","fix":0},{"id":308,"col":"B","fix":0},{"id":308,"col":"L","fix":0},{"id":308,"col":"C","fix":0},
{"id":309,"col":"A","fix":0},{"id":309,"col":"B","fix":0},{"id":309,"col":"L","fix":0},{"id":309,"col":"C","fix":0},
{"id":310,"col":"A","fix":0},{"id":310,"col":"B","fix":0},{"id":310,"col":"L","fix":0},{"id":310,"col":"C","fix":0},
{"id":311,"col":"A","fix":1},{"id":311,"col":"B","fix":1},{"id":311,"col":"L","fix":1},{"id":311,"col":"C","fix":1},
{"id":312,"col":"A","fix":0},{"id":312,"col":"B","fix":0},{"id":312,"col":"L","fix":0},{"id":312,"col":"C","fix":0},
{"id":313,"col":"A","fix":0},{"id":313,"col":"B","fix":0},{"id":313,"col":"L","fix":0},{"id":313,"col":"C","fix":0},
{"id":314,"col":"A","fix":0},{"id":314,"col":"B","fix":0},{"id":314,"col":"L","fix":0},{"id":314,"col":"C","fix":0},
{"id":315,"col":"A","fix":0},{"id":315,"col":"B","fix":0},{"id":315,"col":"L","fix":0},{"id":315,"col":"C","fix":0},
{"id":316,"col":"A","fix":0},{"id":316,"col":"B","fix":0},{"id":316,"col":"L","fix":0},{"id":316,"col":"C","fix":0},
{"id":317,"col":"A","fix":1},{"id":317,"col":"B","fix":1},{"id":317,"col":"L","fix":1},{"id":317,"col":"C","fix":1},
{"id":318,"col":"A","fix":0},{"id":318,"col":"B","fix":0},{"id":318,"col":"L","fix":0},{"id":318,"col":"C","fix":0},
{"id":319,"col":"A","fix":1},{"id":319,"col":"B","fix":1},{"id":319,"col":"L","fix":1},{"id":319,"col":"C","fix":1},
{"id":320,"col":"A","fix":1},{"id":320,"col":"B","fix":1},{"id":320,"col":"L","fix":1},{"id":320,"col":"C","fix":1},
{"id":321,"col":"A","fix":1},{"id":321,"col":"B","fix":1},{"id":321,"col":"L","fix":1},{"id":321,"col":"C","fix":1},
{"id":322,"col":"A","fix":1},{"id":322,"col":"B","fix":1},{"id":322,"col":"L","fix":1},{"id":322,"col":"C","fix":1},
{"id":323,"col":"A","fix":1},{"id":323,"col":"B","fix":1},{"id":323,"col":"L","fix":1},{"id":323,"col":"C","fix":1},
{"id":324,"col":"A","fix":0},{"id":324,"col":"B","fix":0},{"id":324,"col":"L","fix":0},{"id":324,"col":"C","fix":0},
{"id":325,"col":"A","fix":0},{"id":325,"col":"B","fix":0},{"id":325,"col":"L","fix":0},{"id":325,"col":"C","fix":0},
{"id":326,"col":"A","fix":1},{"id":326,"col":"B","fix":1},{"id":326,"col":"L","fix":1},{"id":326,"col":"C","fix":1},
{"id":327,"col":"A","fix":1},{"id":327,"col":"B","fix":1},{"id":327,"col":"L","fix":1},{"id":327,"col":"C","fix":1},
{"id":328,"col":"A","fix":1},{"id":328,"col":"B","fix":1},{"id":328,"col":"L","fix":1},{"id":328,"col":"C","fix":1},
{"id":329,"col":"A","fix":1},{"id":329,"col":"B","fix":1},{"id":329,"col":"L","fix":1},{"id":329,"col":"C","fix":1},
{"id":330,"col":"A","fix":1},{"id":330,"col":"B","fix":1},{"id":330,"col":"L","fix":1},{"id":330,"col":"C","fix":1},
{"id":331,"col":"A","fix":1},{"id":331,"col":"B","fix":1},{"id":331,"col":"L","fix":1},{"id":331,"col":"C","fix":1},
{"id":332,"col":"A","fix":0},{"id":332,"col":"B","fix":0},{"id":332,"col":"L","fix":0},{"id":332,"col":"C","fix":0},
{"id":333,"col":"A","fix":0},{"id":333,"col":"B","fix":0},{"id":333,"col":"L","fix":0},{"id":333,"col":"C","fix":0},
{"id":334,"col":"A","fix":0},{"id":334,"col":"B","fix":0},{"id":334,"col":"L","fix":0},{"id":334,"col":"C","fix":0},
{"id":335,"col":"A","fix":0},{"id":335,"col":"B","fix":0},{"id":335,"col":"L","fix":0},{"id":335,"col":"C","fix":0},
{"id":336,"col":"A","fix":1},{"id":336,"col":"B","fix":1},{"id":336,"col":"L","fix":1},{"id":336,"col":"C","fix":1},
{"id":337,"col":"A","fix":1},{"id":337,"col":"B","fix":1},{"id":337,"col":"L","fix":1},{"id":337,"col":"C","fix":1},
{"id":338,"col":"A","fix":1},{"id":338,"col":"B","fix":1},{"id":338,"col":"L","fix":1},{"id":338,"col":"C","fix":1},
{"id":339,"col":"A","fix":0},{"id":339,"col":"B","fix":0},{"id":339,"col":"L","fix":0},{"id":339,"col":"C","fix":0},
{"id":340,"col":"A","fix":1},{"id":340,"col":"B","fix":0},{"id":340,"col":"L","fix":1},{"id":340,"col":"C","fix":0},
{"id":341,"col":"A","fix":1},{"id":341,"col":"B","fix":1},{"id":341,"col":"L","fix":1},{"id":341,"col":"C","fix":1},
{"id":342,"col":"A","fix":1},{"id":342,"col":"B","fix":1},{"id":342,"col":"L","fix":1},{"id":342,"col":"C","fix":1},
{"id":343,"col":"A","fix":1},{"id":343,"col":"B","fix":1},{"id":343,"col":"L","fix":1},{"id":343,"col":"C","fix":1},
{"id":344,"col":"A","fix":0},{"id":344,"col":"B","fix":0},{"id":344,"col":"L","fix":0},{"id":344,"col":"C","fix":0},
{"id":345,"col":"A","fix":0},{"id":345,"col":"B","fix":0},{"id":345,"col":"L","fix":0},{"id":345,"col":"C","fix":0},
{"id":346,"col":"A","fix":1},{"id":346,"col":"B","fix":0},{"id":346,"col":"L","fix":1},{"id":346,"col":"C","fix":0},
{"id":347,"col":"A","fix":1},{"id":347,"col":"B","fix":1},{"id":347,"col":"L","fix":1},{"id":347,"col":"C","fix":1},
{"id":348,"col":"A","fix":1},{"id":348,"col":"B","fix":1},{"id":348,"col":"L","fix":1},{"id":348,"col":"C","fix":1},
{"id":349,"col":"A","fix":1},{"id":349,"col":"B","fix":1},{"id":349,"col":"L","fix":1},{"id":349,"col":"C","fix":1},
{"id":350,"col":"A","fix":0},{"id":350,"col":"B","fix":0},{"id":350,"col":"L","fix":0},{"id":350,"col":"C","fix":0},
{"id":351,"col":"A","fix":1},{"id":351,"col":"B","fix":1},{"id":351,"col":"L","fix":1},{"id":351,"col":"C","fix":1},
{"id":352,"col":"A","fix":1},{"id":352,"col":"B","fix":1},{"id":352,"col":"L","fix":1},{"id":352,"col":"C","fix":1},
{"id":353,"col":"A","fix":1},{"id":353,"col":"B","fix":0},{"id":353,"col":"L","fix":1},{"id":353,"col":"C","fix":0},
{"id":354,"col":"A","fix":1},{"id":354,"col":"B","fix":1},{"id":354,"col":"L","fix":1},{"id":354,"col":"C","fix":1},
{"id":355,"col":"A","fix":0},{"id":355,"col":"B","fix":0},{"id":355,"col":"L","fix":0},{"id":355,"col":"C","fix":0},
{"id":356,"col":"A","fix":1},{"id":356,"col":"B","fix":1},{"id":356,"col":"L","fix":1},{"id":356,"col":"C","fix":1},
{"id":357,"col":"A","fix":1},{"id":357,"col":"B","fix":1},{"id":357,"col":"L","fix":1},{"id":357,"col":"C","fix":1},
{"id":358,"col":"A","fix":1},{"id":358,"col":"B","fix":0},{"id":358,"col":"L","fix":1},{"id":358,"col":"C","fix":0},
{"id":359,"col":"A","fix":0},{"id":359,"col":"B","fix":1},{"id":359,"col":"L","fix":1},{"id":359,"col":"C","fix":0},
{"id":360,"col":"A","fix":1},{"id":360,"col":"B","fix":1},{"id":360,"col":"L","fix":1},{"id":360,"col":"C","fix":1},
{"id":361,"col":"A","fix":1},{"id":361,"col":"B","fix":1},{"id":361,"col":"L","fix":1},{"id":361,"col":"C","fix":1},
{"id":362,"col":"A","fix":1},{"id":362,"col":"B","fix":1},{"id":362,"col":"L","fix":1},{"id":362,"col":"C","fix":1},
{"id":363,"col":"A","fix":1},{"id":363,"col":"B","fix":1},{"id":363,"col":"L","fix":1},{"id":363,"col":"C","fix":1},
{"id":364,"col":"A","fix":1},{"id":364,"col":"B","fix":1},{"id":364,"col":"L","fix":1},{"id":364,"col":"C","fix":1},
{"id":365,"col":"A","fix":1},{"id":365,"col":"B","fix":1},{"id":365,"col":"L","fix":1},{"id":365,"col":"C","fix":1},
{"id":366,"col":"A","fix":1},{"id":366,"col":"B","fix":1},{"id":366,"col":"L","fix":1},{"id":366,"col":"C","fix":1},
{"id":367,"col":"A","fix":1},{"id":367,"col":"B","fix":1},{"id":367,"col":"L","fix":1},{"id":367,"col":"C","fix":1},
{"id":368,"col":"A","fix":1},{"id":368,"col":"B","fix":1},{"id":368,"col":"L","fix":1},{"id":368,"col":"C","fix":1},
{"id":369,"col":"A","fix":1},{"id":369,"col":"B","fix":1},{"id":369,"col":"L","fix":1},{"id":369,"col":"C","fix":1},
{"id":370,"col":"A","fix":1},{"id":370,"col":"B","fix":1},{"id":370,"col":"L","fix":1},{"id":370,"col":"C","fix":1},
{"id":371,"col":"A","fix":1},{"id":371,"col":"B","fix":1},{"id":371,"col":"L","fix":1},{"id":371,"col":"C","fix":1},
{"id":372,"col":"A","fix":1},{"id":372,"col":"B","fix":1},{"id":372,"col":"L","fix":1},{"id":372,"col":"C","fix":1},
{"id":373,"col":"A","fix":1},{"id":373,"col":"B","fix":1},{"id":373,"col":"L","fix":1},{"id":373,"col":"C","fix":1},
{"id":374,"col":"A","fix":1},{"id":374,"col":"B","fix":1},{"id":374,"col":"L","fix":1},{"id":374,"col":"C","fix":1},
{"id":375,"col":"A","fix":0},{"id":375,"col":"B","fix":0},{"id":375,"col":"L","fix":0},{"id":375,"col":"C","fix":0},
{"id":376,"col":"A","fix":1},{"id":376,"col":"B","fix":1},{"id":376,"col":"L","fix":1},{"id":376,"col":"C","fix":1},
{"id":377,"col":"A","fix":0},{"id":377,"col":"B","fix":0},{"id":377,"col":"L","fix":0},{"id":377,"col":"C","fix":0}
    ]
  },
  "mark": {"type": "rect", "strokeWidth": 0.8},
  "encoding": {
    "x": {
      "field": "col",
      "type": "nominal",
      "sort": ["A", "B", "L", "C"],
      "title": null,
      "scale": {"paddingInner": 0, "paddingOuter": 0},
      "axis": {
        "labelAngle": -90,
        "labelPadding": 14,
        "labelLimit": 0,
        "labelExpr": "datum.label == 'A' ? 'fixation_rater_A' : datum.label == 'B' ? 'fixation_rater_B' : datum.label == 'L' ? 'fixation_liberal' : 'fixation_conservative'"
      }
    },
    "y": {
      "field": "id",
      "type": "ordinal",
      "title": null,
      "scale": {"paddingInner": 0, "paddingOuter": 0},
      "axis": {
        "labelAngle": 0,
        "labelPadding": 14,
        "labelOverlap": false,
        "labelFlush": false,
        "labelExpr": "datum.value % 5 == 0 ? '' + datum.value : ''",
        "tickOpacity": {"condition": {"test": "datum.value % 5 == 0", "value": 1}, "value": 0}
      }
    },
    "color": {
      "field": "fix",
      "type": "nominal",
      "scale": {"domain": [1, 0], "range": ["#90ee90", "#ff0000"]},
      "legend": {
        "title": null,
        "orient": "none",
        "legendX": 70,
        "legendY": -188,
        "direction": "horizontal",
        "columns": 2,
        "columnPadding": 102,
        "padding": 20,
        "strokeColor": "#d6d6d6",
        "cornerRadius": 8,
        "fillColor": "white",
        "symbolType": "square",
        "symbolSize": 1760,
        "symbolStrokeWidth": 0,
        "symbolOpacity": 1,
        "labelOffset": 40,
        "labelFont": "DejaVu Sans",
        "labelFontSize": 48,
        "labelColor": "black",
        "labelLimit": 0,
        "labelExpr": "datum.label == '1' ? 'fixation' : 'non-fixation'"
      }
    },
    "stroke": {
      "field": "fix",
      "type": "nominal",
      "scale": {"domain": [1, 0], "range": ["#90ee90", "#ff0000"]},
      "legend": null
    }
  },
  "config": {
    "view": {"stroke": null},
    "legend": {"strokeWidth": 3},
    "axis": {
      "domain": false,
      "grid": false,
      "ticks": true,
      "tickColor": "black",
      "tickWidth": 3,
      "tickSize": 14,
      "labelFont": "DejaVu Sans",
      "labelFontSize": 40,
      "labelColor": "black"
    }
  }
}
